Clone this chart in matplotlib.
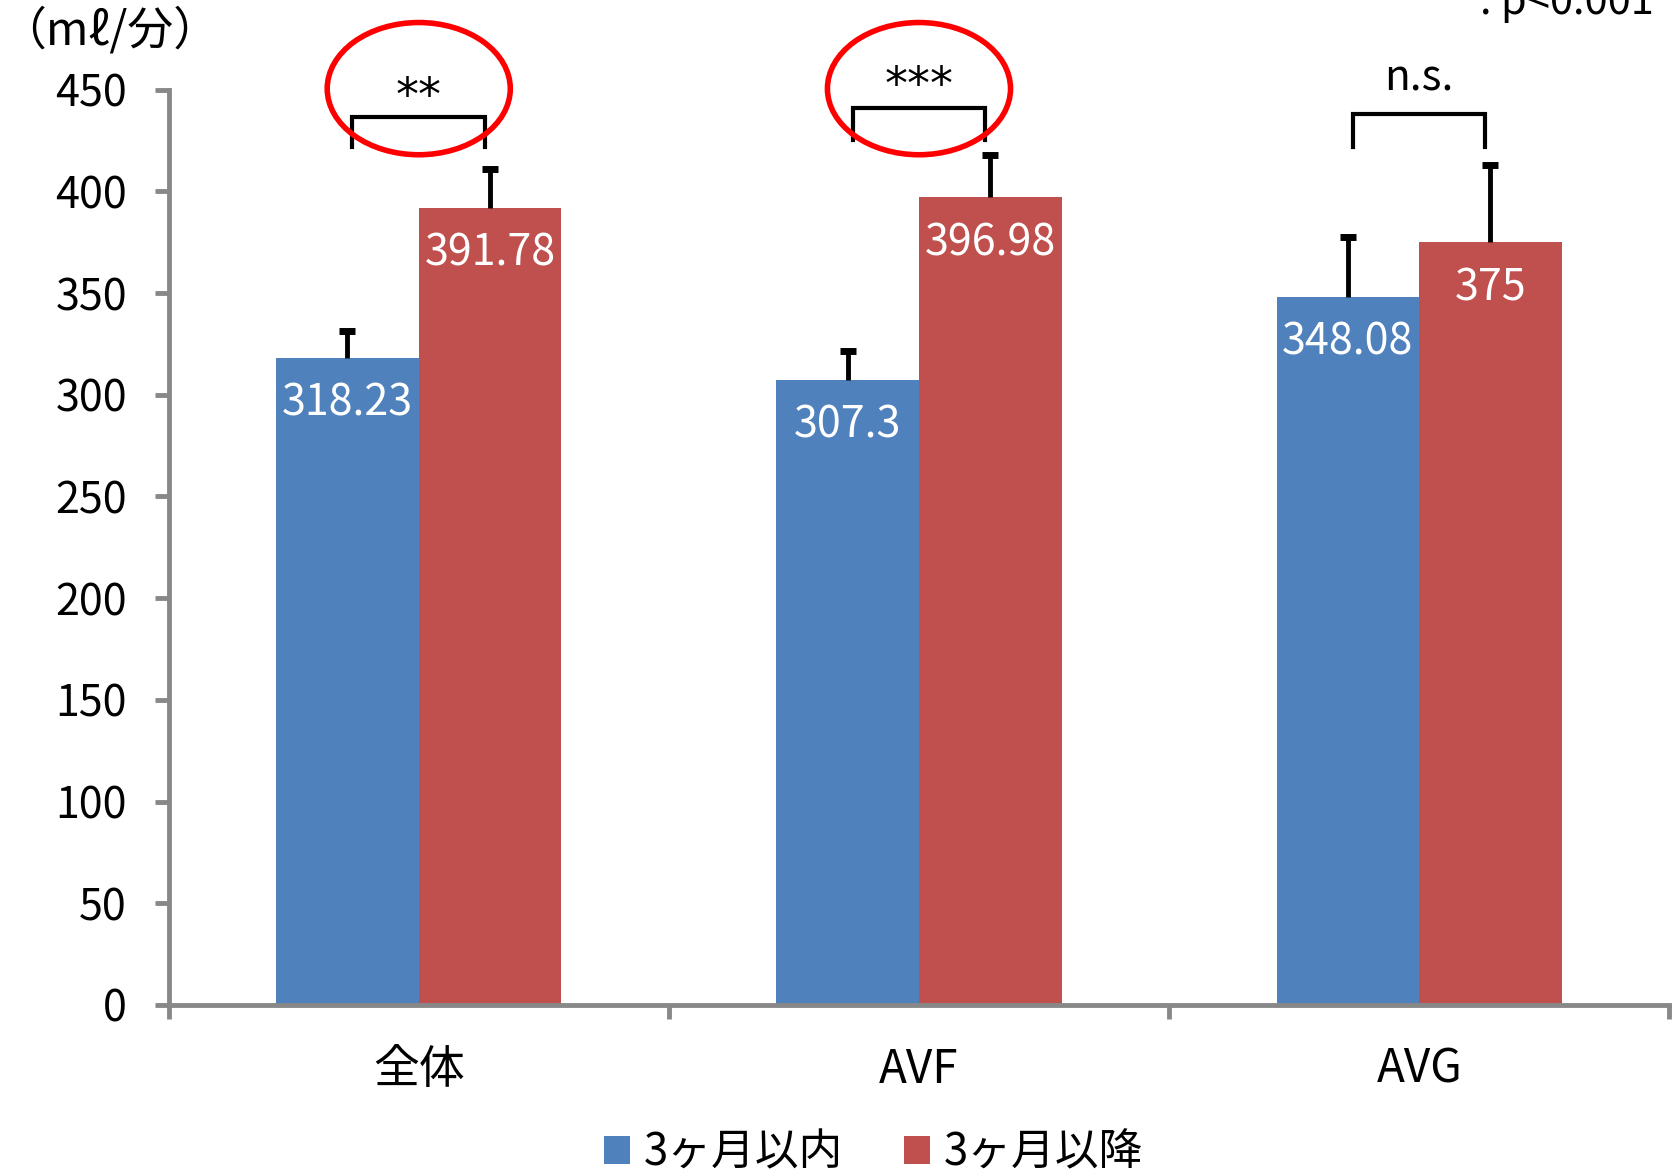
import matplotlib
matplotlib.use("Agg")
import matplotlib.pyplot as plt
from matplotlib.patches import Ellipse
import numpy as np

plt.rcParams['font.family'] = ['Noto Sans CJK JP', 'DejaVu Sans']

categories = ['全体', 'AVF', 'AVG']
series_names = ['3ヶ月以内', '3ヶ月以降']
within3 = [318.23, 307.3, 348.08]
after3 = [391.78, 396.98, 375]
within3_err = [13, 14, 29.5]
after3_err = [19, 21, 38]
sig_labels = ['**', '***', 'n.s.']
yticks = [0, 50, 100, 150, 200, 250, 300, 350, 400, 450]

blue = '#4F81BD'
red = '#C0504D'

fig = plt.figure(figsize=(16.73, 11.75), dpi=100)
ax = fig.add_axes([0.1008, 0.1447, 0.897, 0.779])

x = np.arange(len(categories))
w = 0.285
b1 = ax.bar(x - w/2, within3, w, color=blue, zorder=2)
b2 = ax.bar(x + w/2, after3, w, color=red, zorder=2)
for xs, vals, errs in [(x - w/2, within3, within3_err), (x + w/2, after3, after3_err)]:
    tops = np.array(vals) + np.array(errs)
    ax.vlines(xs, vals, tops, colors='black', lw=3.5, zorder=3)
    ax.plot(xs, tops, linestyle='none', marker='_', ms=11, mew=5, color='black', zorder=3)
    for xi, v in zip(xs, vals):
        ax.annotate(f'{v:g}', (xi, v), xytext=(0, -33), textcoords='offset points',
                    ha='center', va='center', color='white', fontsize=31, zorder=4)

# significance brackets
br_top = [436.8, 441, 437.9]
br_bot = [421.6, 425.3, 422]
for i in range(3):
    xl, xr = x[i] - w/2 + 0.01, x[i] + w/2 - 0.01
    ax.plot([xl, xl, xr, xr], [br_bot[i], br_top[i], br_top[i], br_bot[i]], color='black',
            lw=3, clip_on=False, zorder=5, solid_joinstyle='miter')
ax.text(x[0], 440, sig_labels[0], ha='center', va='baseline', fontsize=33,
        family='DejaVu Sans', clip_on=False, zorder=5)
ax.text(x[1], 445.5, sig_labels[1], ha='center', va='baseline', fontsize=33,
        family='DejaVu Sans', clip_on=False, zorder=5)
ax.text(x[2], 455.5, sig_labels[2], ha='center', va='center', fontsize=30.5,
        clip_on=False, zorder=5)

# red circles
for i in range(2):
    e = Ellipse((x[i], 450.5), width=0.366, height=65, fill=False, edgecolor='#FF0000', lw=4,
                clip_on=False, zorder=6)
    ax.add_patch(e)

ax.set_xlim(-0.5, 2.5)
ax.set_ylim(0, 450)
ax.set_yticks(yticks)
ax.set_yticklabels([str(t) for t in yticks], fontsize=31)
ax.set_xticks([-0.5, 0.5, 1.5, 2.5])
ax.set_xticklabels([])
ax.set_xticks(x, minor=True)
ax.set_xticklabels(categories, minor=True, fontsize=33)
ax.tick_params(axis='x', which='minor', length=0, pad=29)
ax.tick_params(axis='x', which='major', length=10, width=3.5, color='#888888', direction='out')
ax.tick_params(axis='y', length=10, width=3.5, color='#888888', direction='out', pad=20)
for s in ['top', 'right']:
    ax.spines[s].set_visible(False)
for s in ['left', 'bottom']:
    ax.spines[s].set_color('#888888')
    ax.spines[s].set_linewidth(3.5)

fig.text(0.0, 0.973, '（mℓ/分）', fontsize=33, ha='left', va='center')
fig.text(0.9886, 0.988, ': p<0.001', fontsize=30, ha='right', va='baseline')

leg = fig.legend([b1, b2], series_names, loc='center', bbox_to_anchor=(0.522, 0.0195), ncol=2,
                 frameon=False, fontsize=31.5, handlelength=0.6, handleheight=0.6,
                 handletextpad=0.3, columnspacing=1.4)

fig.savefig('out.png', dpi=100)
